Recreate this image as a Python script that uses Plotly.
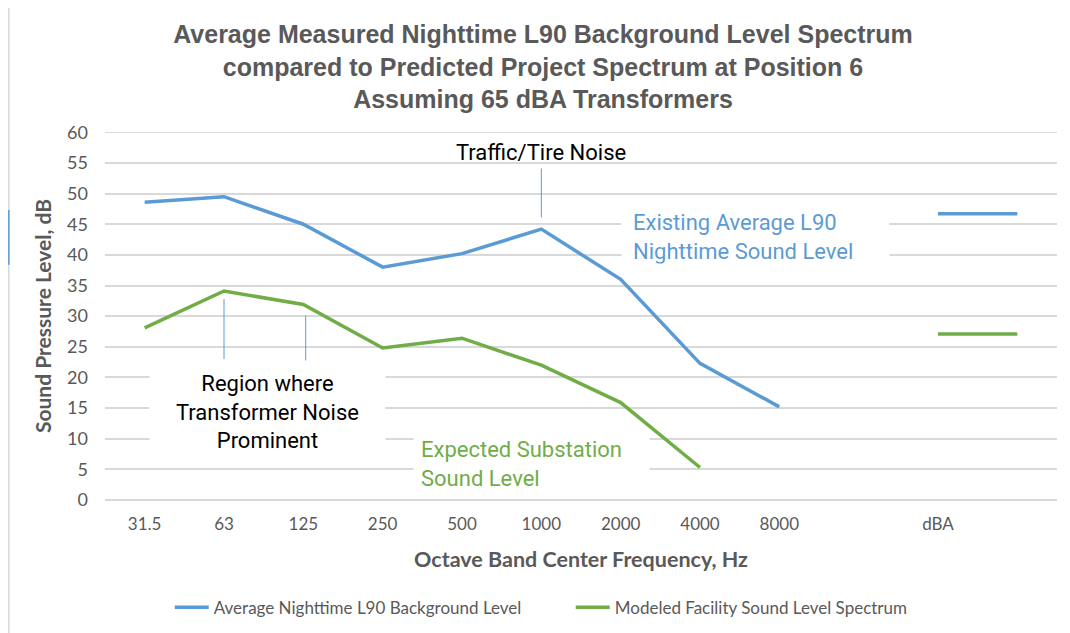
import plotly.graph_objects as go

categories = ["31.5", "63", "125", "250", "500", "1000", "2000", "4000", "8000", "", "dBA", ""]
background_l90 = [48.6, 49.5, 45.0, 38.0, 40.2, 44.2, 36.0, 22.3, 15.2, None, 46.7, 46.7]
facility_level = [28.1, 34.1, 31.9, 24.8, 26.4, 22.0, 15.9, 5.3, None, None, 27.1, 27.1]
y_ticks = [0, 5, 10, 15, 20, 25, 30, 35, 40, 45, 50, 55, 60]

BLUE = "#5B9BD5"
GREEN = "#70AD47"
GRAY = "#595959"
GRID = "#D9D9D9"

xs = list(range(len(categories)))

fig = go.Figure()
fig.add_trace(go.Scatter(x=xs, y=background_l90, mode="lines",
                         name="Average Nighttime L90 Background Level",
                         line=dict(color=BLUE, width=3.5), connectgaps=False))
fig.add_trace(go.Scatter(x=xs, y=facility_level, mode="lines",
                         name="Modeled Facility Sound Level Spectrum",
                         line=dict(color=GREEN, width=3.5), connectgaps=False))

fig.update_layout(
    width=1070, height=633,
    margin=dict(l=97, r=21, t=124, b=141, autoexpand=False),
    paper_bgcolor="white", plot_bgcolor="white",
    title=dict(
        text="Average Measured Nighttime L90 Background Level Spectrum<br>"
             "compared to Predicted Project Spectrum at Position 6<br>"
             "Assuming 65 dBA Transformers",
        x=0.5, xanchor="center", y=0.944, yanchor="top",
        font=dict(family="Liberation Sans", size=25, color=GRAY, weight="bold"),
    ),
    xaxis=dict(
        range=[-0.5, len(categories) - 0.5],
        tickvals=xs, ticktext=categories,
        showgrid=False, zeroline=False, showline=False, automargin=False,
        ticks="", ticklabelstandoff=12,
        tickfont=dict(family="Lato", size=17, color=GRAY),
        title=dict(text="Octave Band Center Frequency, Hz", standoff=18,
                   font=dict(family="Lato", size=21.5, color=GRAY, weight="bold")),
    ),
    yaxis=dict(
        range=[0, 60.05], tickvals=y_ticks,
        showgrid=True, gridcolor=GRID, gridwidth=1.5,
        zeroline=True, zerolinecolor=GRID, zerolinewidth=1.5,
        showline=False, ticks="", ticklabelstandoff=16, automargin=False,
        tickfont=dict(family="Lato", size=18, color=GRAY),
        title=dict(text="Sound Pressure Level, dB", standoff=9,
                   font=dict(family="Lato", size=21, color=GRAY, weight="bold")),
    ),
    legend=dict(orientation="h", x=0.068, xanchor="left", y=-0.293, yanchor="middle",
                font=dict(family="Lato", size=17, color=GRAY),
                itemwidth=34, entrywidth=352, bgcolor="rgba(0,0,0,0)"),
    showlegend=True,
)

# top gridline at 60 (explicit, it sits on the plot edge)
fig.add_shape(type="line", xref="paper", yref="y", x0=0, x1=1, y0=60, y1=60,
              layer="below", line=dict(color=GRID, width=1.5))

# connector lines for callouts
for (x0, y0, y1) in [(1, 32.8, 23.0), (2.03, 30.1, 22.6), (5, 54.1, 46.1)]:
    fig.add_shape(type="line", xref="x", yref="y", x0=x0, x1=x0, y0=y0, y1=y1,
                  line=dict(color=BLUE, width=1))

# outer chart border
fig.add_shape(type="line", xref="paper", yref="paper", x0=-0.101, x1=1.02, y0=1.342, y1=1.342,
              line=dict(color="#D9D9D9", width=1.5))
fig.add_shape(type="line", xref="paper", yref="paper", x0=-0.101, x1=-0.101, y0=1.342, y1=-0.37,
              line=dict(color="#D9D9D9", width=1.5))
fig.add_shape(type="line", xref="paper", yref="paper", x0=-0.101, x1=-0.101, y0=0.788, y1=0.639,
              line=dict(color=BLUE, width=1.5))

ann_font = dict(family="Roboto", size=22)
fig.add_annotation(x=1.548, y=14.35, xref="x", yref="y",
                   text="Region where<br>Transformer Noise<br>Prominent",
                   showarrow=False, align="center", width=215, borderpad=10,
                   bgcolor="white", font=dict(color="black", **ann_font))
fig.add_annotation(x=5, y=56.7, xref="x", yref="y",
                   text="Traffic/Tire Noise", showarrow=False,
                   font=dict(color="black", **ann_font))
fig.add_annotation(x=7.70, y=42.96, xref="x", yref="y",
                   text="Existing Average L90<br>Nighttime Sound Level",
                   showarrow=False, align="left", width=245, borderpad=11,
                   bgcolor="white", font=dict(color=BLUE, **ann_font))
fig.add_annotation(x=4.876, y=5.95, xref="x", yref="y",
                   text="Expected Substation<br>Sound Level",
                   showarrow=False, align="left", width=221, borderpad=7,
                   bgcolor="white", font=dict(color=GREEN, **ann_font))

fig.write_html("out.html")
